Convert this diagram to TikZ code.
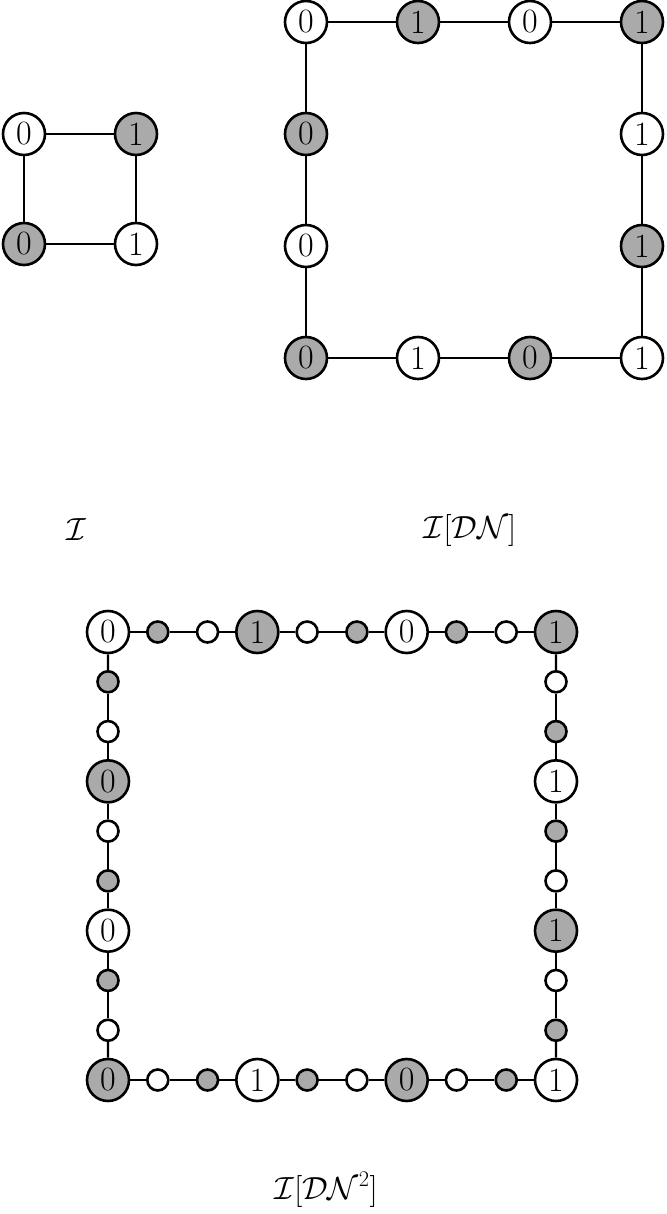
\RequirePackage{fix-cm}
\documentclass[tikz,border=0pt]{standalone}
\usepackage{amsmath}
\usepackage{fontspec}
\definecolor{nodegray}{RGB}{170,170,170}
\begin{document}
\begin{tikzpicture}[x=1pt,y=-1pt,
  bw/.style={circle,draw=black,line width=2.6pt,fill=white,minimum size=42pt,inner sep=0pt,font=\fontsize{34}{36}\selectfont},
  bg/.style={bw,fill=nodegray},
  sw/.style={circle,draw=black,line width=2.6pt,fill=white,minimum size=21pt,inner sep=0pt},
  sg/.style={sw,fill=nodegray},
  edge/.style={line width=2.2pt},
  lab/.style={font=\fontsize{32}{36}\selectfont}]
\useasboundingbox (0,0) rectangle (666,1214);
% small square
\node[bw] (a1) at (24,134) {0};
\node[bg] (a2) at (136,134) {1};
\node[bg] (a3) at (24,244) {0};
\node[bw] (a4) at (136,244) {1};
\draw[edge] (a1)--(a2) (a2)--(a4) (a4)--(a3) (a3)--(a1);
% medium square
\foreach \i/\s/\t in {0/bw/0,1/bg/1,2/bw/0,3/bg/1}
  \node[\s] (mt\i) at ({306+\i*112},22) {\t};
\foreach \i/\s/\t in {0/bg/0,1/bw/1,2/bg/0,3/bw/1}
  \node[\s] (mb\i) at ({306+\i*112},358) {\t};
\foreach \i/\s/\t in {1/bg/0,2/bw/0}
  \node[\s] (ml\i) at (306,{22+\i*112}) {\t};
\foreach \i/\s/\t in {1/bw/1,2/bg/1}
  \node[\s] (mr\i) at (642,{22+\i*112}) {\t};
\draw[edge] (mt0)--(mt1) (mt1)--(mt2) (mt2)--(mt3)
  (mb0)--(mb1) (mb1)--(mb2) (mb2)--(mb3)
  (mt0)--(ml1) (ml1)--(ml2) (ml2)--(mb0)
  (mt3)--(mr1) (mr1)--(mr2) (mr2)--(mb3);
% labels
\node[lab] (L1) at (76,530) {$\mathcal{I}$};
\node[lab] (L2) at (470,530) {$\mathcal{I}[\mathcal{DN}]$};
\node[lab] (L3) at (326,1190) {$\mathcal{I}[\mathcal{DN}^2]$};
% big square
\foreach \i/\s/\t in {0/bw/0,1/sg/,2/sw/,3/bg/1,4/sw/,5/sg/,6/bw/0,7/sg/,8/sw/,9/bg/1}
  \node[\s] (t\i) at ({108+\i*49.78},632) {\t};
\foreach \i/\s/\t in {0/bg/0,1/sw/,2/sg/,3/bw/1,4/sg/,5/sw/,6/bg/0,7/sw/,8/sg/,9/bw/1}
  \node[\s] (b\i) at ({108+\i*49.78},1080) {\t};
\foreach \i/\s/\t in {1/sg/,2/sw/,3/bg/0,4/sw/,5/sg/,6/bw/0,7/sg/,8/sw/}
  \node[\s] (l\i) at (108,{632+\i*49.78}) {\t};
\foreach \i/\s/\t in {1/sw/,2/sg/,3/bw/1,4/sg/,5/sw/,6/bg/1,7/sw/,8/sg/}
  \node[\s] (r\i) at (556,{632+\i*49.78}) {\t};
\foreach \i [evaluate=\i as \j using int(\i+1)] in {0,...,8}
  \draw[edge] (t\i)--(t\j) (b\i)--(b\j);
\foreach \i [evaluate=\i as \j using int(\i+1)] in {1,...,7}
  \draw[edge] (l\i)--(l\j) (r\i)--(r\j);
\draw[edge] (t0)--(l1) (l8)--(b0) (t9)--(r1) (r8)--(b9);
\end{tikzpicture}
\end{document}
